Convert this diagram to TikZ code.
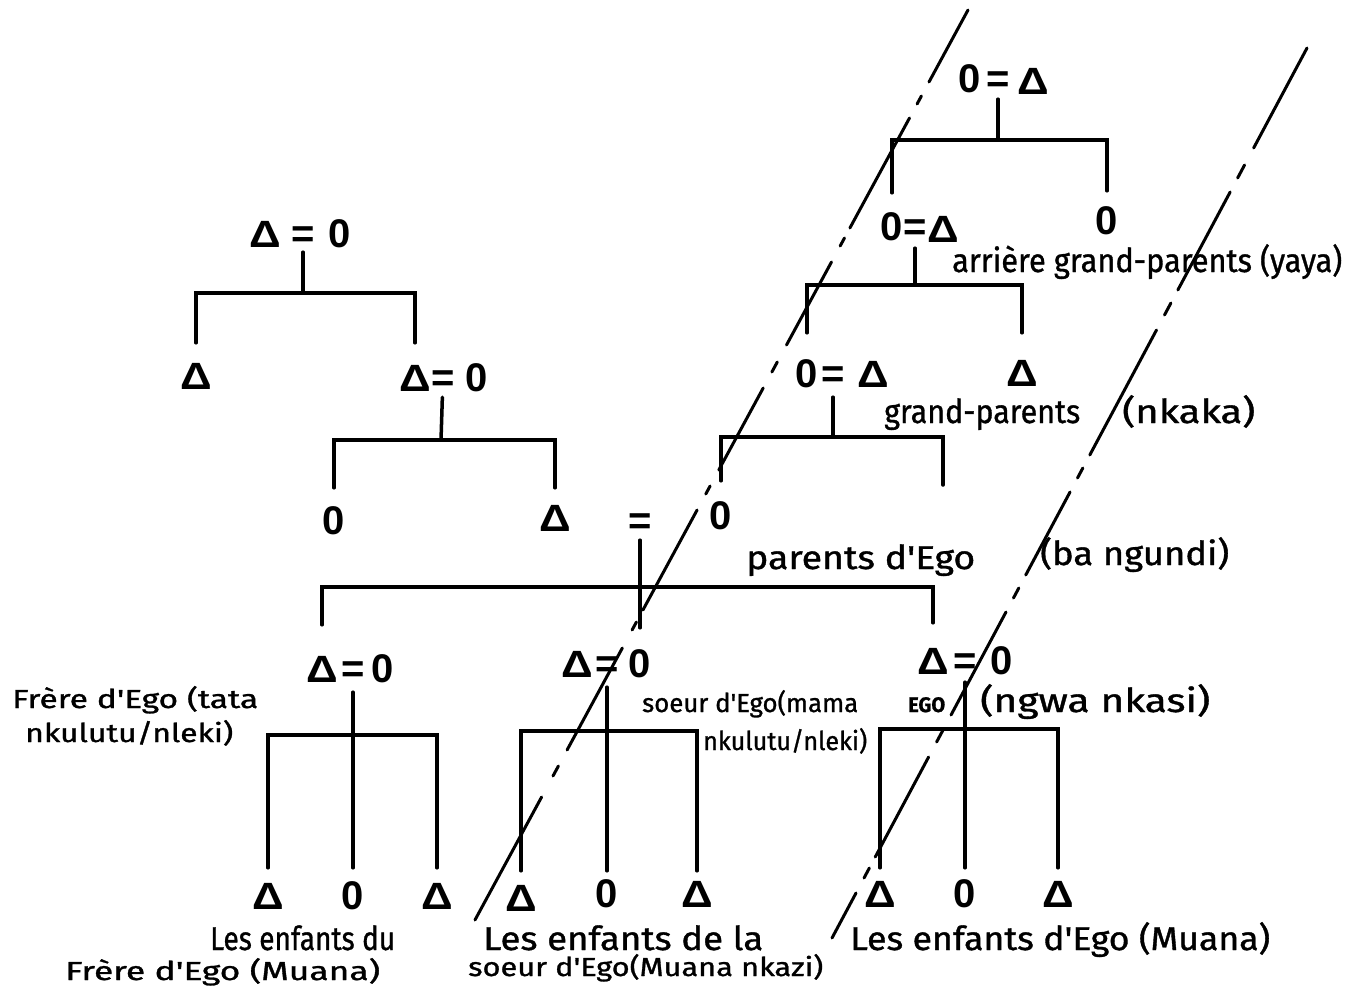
\documentclass[tikz,border=0pt]{standalone}
\usepackage{fontspec}
\usepackage{graphicx}
\setmainfont{Liberation Sans}
\newfontfamily\symf{Liberation Sans}
\newfontfamily\hand{Fira Sans}[FakeBold=1]
\newsavebox\fitbox
\newcommand\fitto[2]{\sbox\fitbox{#2}\pgfmathsetmacro\fitfac{#1/\the\wd\fitbox}\scalebox{\fitfac}[1]{\usebox\fitbox}}
\newcommand\tri{\scalebox{1.1}[0.95]{Δ}}
\begin{document}
\begin{tikzpicture}[x=1pt,y=-1pt,
  sym/.style={font=\symf\bfseries\fontsize{40}{40}\selectfont, inner sep=0pt, text height=28pt, text depth=0pt},
  tree/.style={line width=3.5pt, line cap=round, line join=miter},
  dl/.style={line width=3pt, line cap=round},
  lab/.style={font=\hand\fontsize{33}{33}\selectfont, inner sep=0pt, anchor=base west},
  labs/.style={font=\hand\fontsize{26}{26}\selectfont, inner sep=0pt, anchor=base west},
  egol/.style={font=\hand\bfseries\fontsize{21}{21}\selectfont, inner sep=0pt, anchor=base west}]
\fill[white] (0,0) rectangle (1348,1002);
\useasboundingbox (0,0) rectangle (1348,1002);

% ---- mother's line (right)
\node[sym] (R0f) at (970,78) {0};
\node[sym] (R0e) at (998,78) {=};
\node[sym] (R0m) at (1033,80) {\tri};
\coordinate (R0j) at (998,140);
\node[sym] (R1f) at (892,226) {0};
\node[sym] (R1e) at (915,226) {=};
\node[sym] (R1m) at (943,228) {\tri};
\node[sym] (R1s) at (1107,220) {0};
\coordinate (R1j) at (915,285);
\node[sym] (R2f) at (807,373) {0};
\node[sym] (R2e) at (833,373) {=};
\node[sym] (R2m) at (873,373) {\tri};
\node[sym] (R2s) at (1022,372) {\tri};
\coordinate (R2j) at (833,437);
\coordinate (R2x) at (943,485);
\node[sym] (M) at (721,515) {0};

% ---- father's line (left)
\node[sym] (L1m) at (265,233) {\tri};
\node[sym] (L1e) at (303,233) {=};
\node[sym] (L1f) at (340,233) {0};
\coordinate (L1j) at (303,293);
\node[sym] (L2s) at (196,375) {\tri};
\node[sym] (L2m) at (415,377) {\tri};
\node[sym] (L2e) at (443,377) {=};
\node[sym] (L2f) at (477,377) {0};
\coordinate (L2j) at (441,440);
\node[sym] (L3s) at (334,520) {0};
\node[sym] (F) at (555,517) {\tri};
\node[sym] (Pe) at (640,520) {=};
\coordinate (Pj) at (640,587);

% ---- Ego's generation
\node[sym] (A) at (322,668) {\tri};
\node[sym] (Ae) at (353,668) {=};
\node[sym] (Af) at (383,668) {0};
\coordinate (Aj) at (353,735);
\node[sym] (B) at (577,663) {\tri};
\node[sym] (Be) at (607,663) {=};
\node[sym] (Bf) at (640,663) {0};
\coordinate (Bj) at (607,731);
\node[sym] (E) at (933,660) {\tri};
\node[sym] (Ee) at (965,660) {=};
\node[sym] (Ef) at (1002,660) {0};
\coordinate (Ej) at (965,729);

% ---- children
\node[sym] (a1) at (268,895) {\tri};
\node[sym] (a2) at (353,895) {0};
\node[sym] (a3) at (437,895) {\tri};
\node[sym] (b1) at (521,897) {\tri};
\node[sym] (b2) at (607,893) {0};
\node[sym] (b3) at (697,893) {\tri};
\node[sym] (e1) at (880,893) {\tri};
\node[sym] (e2) at (965,893) {0};
\node[sym] (e3) at (1058,893) {\tri};

% ---- connectors
\draw[tree, shorten <=7pt] (R0e) -- (R0j);
\draw[tree, shorten <=19pt, shorten >=15pt] (R1f) |- (R0j) -| (R1s);
\draw[tree, shorten <=8pt] (R1e) -- (R1j);
\draw[tree, shorten <=26pt, shorten >=25pt] (R2f) |- (R1j) -| (R2s);
\draw[tree, shorten <=10pt] (R2e) -- (R2j);
\draw[tree, shorten <=20pt] (M) |- (R2j) -| (R2x);

\draw[tree, shorten <=5pt] (L1e) -- (L1j);
\draw[tree, shorten <=18pt, shorten >=20pt] (L2s) |- (L1j) -| (L2m);
\draw[tree, shorten <=6pt] (L2e) -- (L2j);
\draw[tree, shorten <=18pt, shorten >=15pt] (L3s) |- (L2j) -| (F);

\draw[tree, shorten <=6pt, shorten >=21pt] (Pe) -- (Bf);
\draw[tree, shorten <=29pt, shorten >=23pt] (A) |- (Pj) -| (E);

\draw[tree, shorten <=10pt, shorten >=13pt] (Ae) -- (a2);
\draw[tree, shorten <=13pt, shorten >=13pt] (a1) |- (Aj) -| (a3);
\draw[tree, shorten <=10pt, shorten >=8pt] (Be) -- (b2);
\draw[tree, shorten <=12pt, shorten >=8pt] (b1) |- (Bj) -| (b3);
\draw[tree, shorten <=8pt, shorten >=11pt] (Ee) -- (e2);
\draw[tree, shorten <=11pt, shorten >=11pt] (e1) |- (Ej) -| (e3);

% ---- dash-dot generation lines
\foreach \a/\b in {10/82, 96/104, 118/228, 238/246, 262/345, 362/372, 388/470, 486/494, 510/610, 622/630, 648/750, 766/776, 797/920}
  \draw[dl] ({968-0.5418*(\a-10)},\a) -- ({968-0.5418*(\b-10)},\b);
\foreach \a/\b in {48/148, 165/178, 192/290, 303/315, 330/455, 468/478, 492/575, 588/598, 612/715, 730/742, 757/857, 868/878, 893/938}
  \draw[dl] ({1307-0.5337*(\a-48)},\a) -- ({1307-0.5337*(\b-48)},\b);

% ---- labels
\node[lab] (t1) at (952,272) {\fitto{390}{arrière grand-parents (yaya)}};
\node[lab] (t2) at (884,423) {\fitto{196}{grand-parents}};
\node[lab] (t3) at (1122,423) {\fitto{133}{(nkaka)}};
\node[lab] (t4) at (746,569) {\fitto{229}{parents d'Ego}};
\node[lab] (t5) at (1040,565) {\fitto{189}{(ba ngundi)}};
\node[labs] (t6) at (12,708) {\fitto{246}{Frère d'Ego (tata}};
\node[labs] (t7) at (25,742) {\fitto{208}{nkulutu/nleki)}};
\node[labs] (t8) at (642,712) {\fitto{216}{soeur d'Ego(mama}};
\node[labs] (t9) at (703,750) {\fitto{164}{nkulutu/nleki)}};
\node[egol] (t10) at (908,712) {\fitto{37}{EGO}};
\node[lab] (t11) at (980,712) {\fitto{230}{(ngwa nkasi)}};
\node[lab] (t12) at (210,950) {\fitto{185}{Les enfants du}};
\node[labs] (t13) at (65,980) {\fitto{315}{Frère d'Ego (Muana)}};
\node[lab] (t14) at (483,950) {\fitto{280}{Les enfants de la}};
\node[labs] (t15) at (468,976) {\fitto{355}{soeur d'Ego(Muana nkazi)}};
\node[lab] (t16) at (850,950) {\fitto{420}{Les enfants d'Ego (Muana)}};
\end{tikzpicture}
\end{document}
